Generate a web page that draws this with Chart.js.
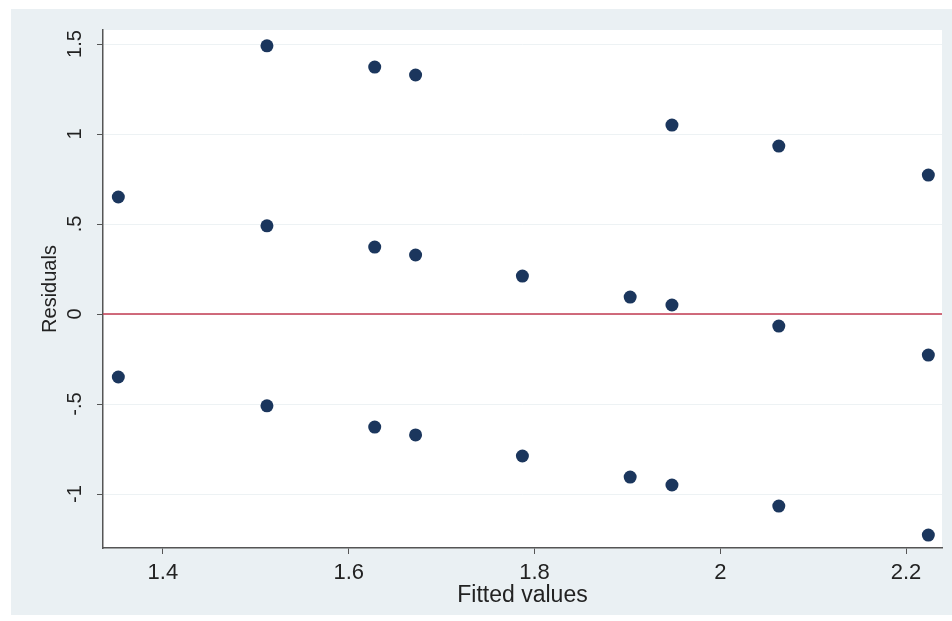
<!DOCTYPE html>
<html>
<head>
<meta charset="utf-8">
<script src="https://cdn.jsdelivr.net/npm/chart.js@4"></script>
<style>
  body { margin: 0; background: #fff; }
  canvas { display: block; }
</style>
</head>
<body>
<canvas id="myChart" width="952" height="621"></canvas>
<script>
const fitted = [1.352, 1.352, 1.512, 1.512, 1.512, 1.628, 1.628, 1.628, 1.672, 1.672, 1.672,
  1.787, 1.787, 1.903, 1.903, 1.948, 1.948, 1.948, 2.063, 2.063, 2.063, 2.224, 2.224, 2.224];
const residuals = [0.65, -0.35, 1.49, 0.49, -0.51, 1.372, 0.372, -0.628, 1.328, 0.328, -0.672,
  0.211, -0.789, 0.094, -0.906, 1.05, 0.05, -0.95, 0.933, -0.067, -1.067, 0.772, -0.228, -1.228];
const xTicks = [1.4, 1.6, 1.8, 2, 2.2];
const xTickLabels = ['1.4', '1.6', '1.8', '2', '2.2'];
const yTicks = [-1, -0.5, 0, 0.5, 1, 1.5];
const yTickLabels = ['-1', '-.5', '0', '.5', '1', '1.5'];

const xMin = 1.3355, xMax = 2.2387;
const fam = 'Liberation Sans, Arial, sans-serif';

// stata style grey panel + white plot region
const panelBg = {
  id: 'panelBg',
  beforeDraw(chart) {
    const c = chart.ctx, a = chart.chartArea;
    c.save();
    c.fillStyle = '#ffffff';
    c.fillRect(0, 0, chart.width, chart.height);
    c.fillStyle = '#eaf0f3';
    c.fillRect(11, 9, chart.width - 11, chart.height - 15);
    c.fillStyle = '#ffffff';
    c.fillRect(a.left, a.top, a.right - a.left, a.bottom - a.top);
    c.restore();
  }
};

new Chart(document.getElementById('myChart'), {
  type: 'scatter',
  data: {
    datasets: [{
      type: 'line',
      data: [{ x: xMin, y: 0 }, { x: xMax, y: 0 }],
      borderColor: '#c23a50',
      borderWidth: 1.5,
      pointRadius: 0,
      order: 2
    }, {
      data: fitted.map((f, i) => ({ x: f, y: residuals[i] })),
      backgroundColor: '#1b365d',
      borderWidth: 0,
      pointRadius: 6.5,
      order: 1
    }]
  },
  options: {
    responsive: false,
    animation: false,
    layout: { padding: { left: 0, top: 30, right: 10, bottom: 0 } },
    plugins: { legend: { display: false }, tooltip: { enabled: false } },
    scales: {
      x: {
        type: 'linear',
        min: xMin,
        max: xMax,
        afterBuildTicks: s => { s.ticks = xTicks.map(v => ({ value: v })); },
        afterFit: s => { s.height = 73; },
        border: { color: '#555', width: 1.5 },
        grid: { drawOnChartArea: false, drawTicks: true, tickLength: 6, tickColor: '#555' },
        ticks: {
          color: '#222', font: { family: fam, size: 22 }, padding: 6, maxRotation: 0,
          callback: (v, i) => xTickLabels[i]
        },
        title: { display: true, text: 'Fitted values', color: '#222', font: { family: fam, size: 23 }, padding: { top: 0, bottom: 12 } }
      },
      y: {
        type: 'linear',
        min: -1.3,
        max: 1.578,
        afterBuildTicks: s => { s.ticks = yTicks.map(v => ({ value: v })); },
        afterFit: s => { s.width = 103; },
        border: { color: '#555', width: 1.5 },
        grid: { color: '#edf2f4', lineWidth: 1, drawTicks: true, tickLength: 6, tickColor: '#555' },
        ticks: {
          color: '#222', font: { family: fam, size: 20 }, padding: 8, minRotation: 90, maxRotation: 90, crossAlign: 'center',
          callback: (v, i) => yTickLabels[i]
        },
        title: { display: true, text: 'Residuals', color: '#222', font: { family: fam, size: 20 }, padding: { top: 38, bottom: 0 } }
      }
    }
  },
  plugins: [panelBg]
});
</script>
</body>
</html>
